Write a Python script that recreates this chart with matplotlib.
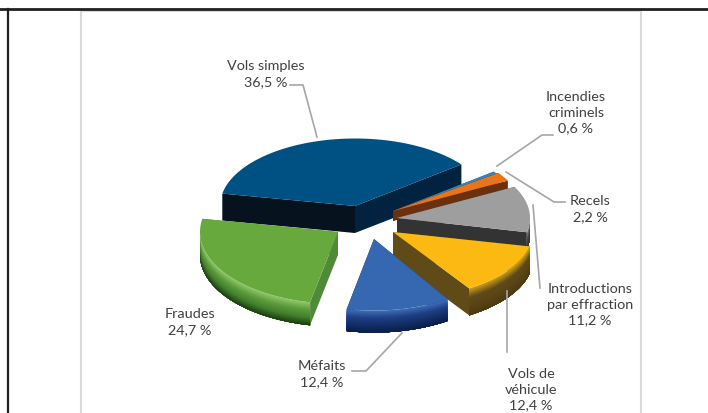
import numpy as np
import matplotlib
matplotlib.use("Agg")
import matplotlib.pyplot as plt
from matplotlib.colors import LinearSegmentedColormap
from matplotlib.patches import Polygon

plt.rcParams['font.family'] = ['Lato', 'DejaVu Sans']

# data, clockwise from the start angle
categories = ['Incendies\ncriminels', 'Recels', 'Introductions\npar effraction',
              'Vols de\nvéhicule', 'Méfaits', 'Fraudes', 'Vols simples']
values = [0.6, 2.2, 11.2, 12.4, 12.4, 24.7, 36.5]

# styles, same order as categories
START_ANGLE = 38.0
apex = [(393, 212), (393, 212), (397, 219), (393, 233), (374, 240), (338, 233), (355, 207)]
radius = [128, 130, 133, 140, 135, 138, 135]
squash = [0.5, 0.5, 0.5, 0.48, 0.53, 0.52, 0.5]
depth = [4, 10, 17, 27, 22, 23, 27]
top_colors = ['#2e86c1', '#e8751a', '#9e9e9e', '#fbb912', '#3568b0', '#68a93e', '#005183']
start_wall = ['#174a70', '#6b300e', '#6b6b6b', '#5f4a18', '#1f3d80', '#4f8a38', '#06121e']
end_wall = ['#174a70', '#6b300e', '#333333', '#5f4a18', '#1f3d80', '#4f8a38', '#01233f']
rim_colors = [['#2e86c1', '#174a70'],
              ['#e8751a', '#6b300e'],
              ['#8a8a8a', '#444444', '#333333'],
              ['#c89a1a', '#5f4a18', '#5a4416', '#4e3b12'],
              ['#3a6cb5', '#1f3f86', '#132f66', '#0a1f4a'],
              ['#8cc665', '#5c9a3c', '#44802e', '#1d4212'],
              ['#005183', '#01233f']]
draw_order = [6, 0, 1, 2, 3, 4, 5]

LINE_GREY = '#a6a6a6'
TEXT_COLOR = '#404040'

label_pos = [(576, 113), (590, 209), (590, 305), (531, 390), (322, 374), (190, 322), (266, 74)]
leaders = [[(553, 136), (542, 136), (497, 167)],
           [(565, 203), (554, 203), (506, 173)],
           [(533, 206), (540, 289)],
           [(507, 292), (507, 353)],
           [(352, 372), (366, 372), (402, 334)],
           [],
           [(290, 86), (303, 86), (317, 138)]]


def arc_points(center, r, sq, a0, a1, n=80):
    t = np.radians(np.linspace(a0, a1, n))
    return np.column_stack([center[0] + r * np.cos(t), center[1] - r * sq * np.sin(t)])


def draw_slice(ax, i, a0, a1):
    c = np.array(apex[i], dtype=float)
    d = np.array([0, depth[i]])
    arc = arc_points(c, radius[i], squash[i], a0, a1)

    # flat walls, the top face hides whatever should not show
    for edge, col in ((arc[0], start_wall[i]), (arc[-1], end_wall[i])):
        ax.add_patch(Polygon([c, edge, edge + d, c + d], fc=col, lw=0))

    # outer rim, only the part facing the viewer
    t = np.linspace(a0, a1, 80)
    front = arc[np.sin(np.radians(t)) < 0.02]
    if len(front) > 1:
        cmap = LinearSegmentedColormap.from_list('rim', rim_colors[i])
        bands = max(int(depth[i]), 2)
        # each band runs to the bottom and the next paints over it, so no seams
        for b in range(bands):
            up = front + d * b / bands
            ax.add_patch(Polygon(np.vstack([up, (front + d)[::-1]]), fc=cmap(b / (bands - 1)), lw=0))

    ax.add_patch(Polygon(np.vstack([c, arc]), fc=top_colors[i], lw=0))


fig = plt.figure(figsize=(7.08, 4.14), dpi=100)
ax = fig.add_axes([0, 0, 1, 1])
ax.set_xlim(0, 708)
ax.set_ylim(414, 0)
ax.axis('off')

# page rules and chart frame
ax.plot([81, 81], [12, 414], color='#d9d9d9', lw=1.5)
ax.plot([641, 641], [12, 414], color='#d9d9d9', lw=1.5)
ax.plot([81, 641], [12, 12], color='#d9d9d9', lw=1.5)
ax.plot([0, 708], [10, 10], color='#231f20', lw=2.0)
ax.plot([8, 8], [10, 414], color='#231f20', lw=1.6)

sweeps = np.array(values) / sum(values) * 360
ends = START_ANGLE - np.cumsum(sweeps)
starts = ends + sweeps
for i in draw_order:
    draw_slice(ax, i, starts[i], ends[i])

for pts in leaders:
    if pts:
        xs, ys = zip(*pts)
        ax.plot(xs, ys, color=LINE_GREY, lw=1.2)

for name, val, (x, y) in zip(categories, values, label_pos):
    txt = f"{name}\n{val:.1f} %".replace('.', ',')
    ax.text(x, y, txt, ha='center', va='center', fontsize=10.4, color=TEXT_COLOR, linespacing=1.35)

fig.savefig('out.png', dpi=100)
